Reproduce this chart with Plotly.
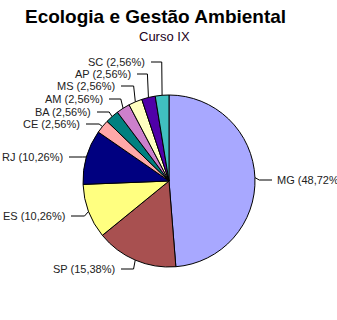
import math
import plotly.graph_objects as go

# Data
labels = ["MG", "SP", "ES", "RJ", "CE", "BA", "AM", "MS", "AP", "SC"]
percent = [48.72, 15.38, 10.26, 10.26, 2.56, 2.56, 2.56, 2.56, 2.56, 2.56]
colors = ["#A8A8FF", "#A85050", "#FFFF80", "#000080", "#FFA8A8",
          "#008080", "#CC80CC", "#FFFFC0", "#5000A8", "#40C0C0"]

# Layout constants (pixels)
W, H = 337, 320
CX, CY, R = 169, 181, 86
# label anchor positions (text end x for left labels / start x for right, y)
label_pos = {
    "MG": (275, 180, "left"),
    "SP": (117, 269, "right"),
    "ES": (67, 216, "right"),
    "RJ": (65, 157, "right"),
    "CE": (82, 124, "right"),
    "BA": (93, 112, "right"),
    "AM": (105, 99, "right"),
    "MS": (117, 86, "right"),
    "AP": (133, 74, "right"),
    "SC": (147, 62, "right"),
}

def px(x):
    return x / W

def py(y):
    return 1 - y / H

fig = go.Figure(go.Pie(
    labels=labels, values=percent, sort=False, direction="clockwise",
    rotation=0, textinfo="none", hoverinfo="label+percent",
    marker=dict(colors=colors, line=dict(color="black", width=1)),
    domain=dict(x=[px(CX - R), px(CX + R)], y=[py(CY + R), py(CY - R)]),
    showlegend=False,
))

total = sum(percent)
cum = 0
annotations = []
shapes = []
for lab, v in zip(labels, percent):
    mid = (cum + v / 2) / total * 2 * math.pi
    cum += v
    ex, ey = CX + R * math.sin(mid), CY - R * math.cos(mid)
    kx = CX + 1.05 * R * math.sin(mid)
    tx, ty, side = label_pos[lab]
    txt = f"{lab} ({v:.2f}%)".replace(".", ",")
    annotations.append(dict(
        x=px(tx), y=py(ty), xref="paper", yref="paper", text=txt,
        showarrow=False, xanchor=side, yanchor="middle",
        font=dict(family="Liberation Sans, Arial", size=11, color="#222222"),
    ))
    lx = tx + 4 if side == "right" else tx - 3
    path = f"M {px(lx)} {py(ty)} L {px(kx)} {py(ty)} L {px(ex)} {py(ey)}"
    shapes.append(dict(type="path", xref="paper", yref="paper", path=path,
                       line=dict(color="black", width=1)))

annotations.append(dict(
    x=px(155), y=py(17), xref="paper", yref="paper",
    text="<b>Ecologia e Gestão Ambiental</b>", showarrow=False,
    xanchor="center", yanchor="middle",
    font=dict(family="Liberation Sans, Arial", size=19, color="black"),
))
annotations.append(dict(
    x=px(164), y=py(37), xref="paper", yref="paper",
    text="Curso IX", showarrow=False, xanchor="center", yanchor="middle",
    font=dict(family="Liberation Sans, Arial", size=13, color="#200020"),
))

fig.update_layout(
    width=W, height=H, margin=dict(l=0, r=0, t=0, b=0),
    paper_bgcolor="white", plot_bgcolor="white",
    annotations=annotations, shapes=shapes,
)
fig.write_html("out.html")
